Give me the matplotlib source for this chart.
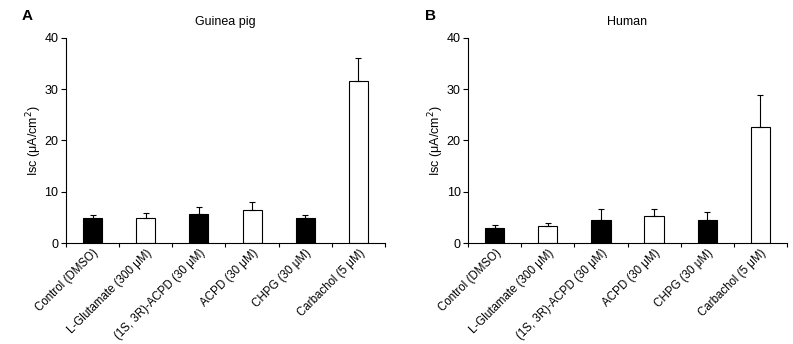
import matplotlib
matplotlib.use("Agg")
from matplotlib import pyplot as plt
from matplotlib import transforms
import numpy as np

plt.rcParams['font.family'] = ['Liberation Sans', 'DejaVu Sans']

categories = ["Control (DMSO)", "L-Glutamate (300 \u03bcM)", "(1S, 3R)-ACPD (30 \u03bcM)",
              "ACPD (30 \u03bcM)", "CHPG (30 \u03bcM)", "Carbachol (5 \u03bcM)"]
bar_colors = ["black", "white", "black", "white", "black", "white"]

guinea_mean = [4.8, 4.9, 5.65, 6.4, 4.8, 31.6]
guinea_err = [0.6, 1.0, 1.45, 1.65, 0.7, 4.5]

human_mean = [2.9, 3.3, 4.5, 5.2, 4.5, 22.6]
human_err = [0.7, 0.6, 2.05, 1.35, 1.6, 6.2]


def draw_panel(fig, ax, means, errs, title):
    x = np.arange(len(categories))
    ax.bar(x, means, width=0.36, color=bar_colors, edgecolor="black", linewidth=0.8,
           yerr=[np.zeros(len(errs)), errs],
           error_kw=dict(ecolor="black", elinewidth=0.8, capsize=2.5, capthick=0.8))
    ax.set_xlim(-0.5, len(categories) - 0.5)
    ax.set_ylim(0, 40)
    ax.set_yticks([0, 10, 20, 30, 40])
    # boundary ticks between groups, labels sit on the group centres
    ax.set_xticks(np.append(x - 0.5, len(categories) - 0.5))
    ax.set_xticklabels([])
    ax.set_xticks(x, minor=True)
    ax.set_xticklabels(categories, minor=True, rotation=45, ha="right",
                       rotation_mode="anchor", fontsize=8.3)
    # nudge the slanted labels a little right, like the original
    shift = transforms.ScaledTranslation(6 / 72, 2 / 72, fig.dpi_scale_trans)
    for lab in ax.get_xticklabels(minor=True):
        lab.set_transform(lab.get_transform() + shift)
    ax.tick_params(axis="x", which="minor", length=0, pad=3)
    ax.tick_params(axis="x", which="major", length=3, width=0.8)
    ax.tick_params(axis="y", length=3.5, width=0.8, labelsize=9, pad=2)
    for side in ("top", "right"):
        ax.spines[side].set_visible(False)
    for side in ("left", "bottom"):
        ax.spines[side].set_linewidth(0.8)
    ax.set_ylabel("Isc (\u03bcA/cm$^2$)", fontsize=9, labelpad=0.5)
    ax.set_title(title, fontsize=9, pad=9)


fig = plt.figure(figsize=(7.93, 3.44), dpi=100)
ax_a = fig.add_axes([0.0832, 0.2936, 0.4023, 0.5968])
ax_b = fig.add_axes([0.5906, 0.2936, 0.4014, 0.5968])

draw_panel(fig, ax_a, guinea_mean, guinea_err, "Guinea pig")
draw_panel(fig, ax_b, human_mean, human_err, "Human")

fig.text(22 / 793, 1 - 9 / 344, "A", fontsize=11, fontweight="bold", ha="left", va="top")
fig.text(425 / 793, 1 - 9 / 344, "B", fontsize=11, fontweight="bold", ha="left", va="top")

fig.savefig("out.png", dpi=100)
